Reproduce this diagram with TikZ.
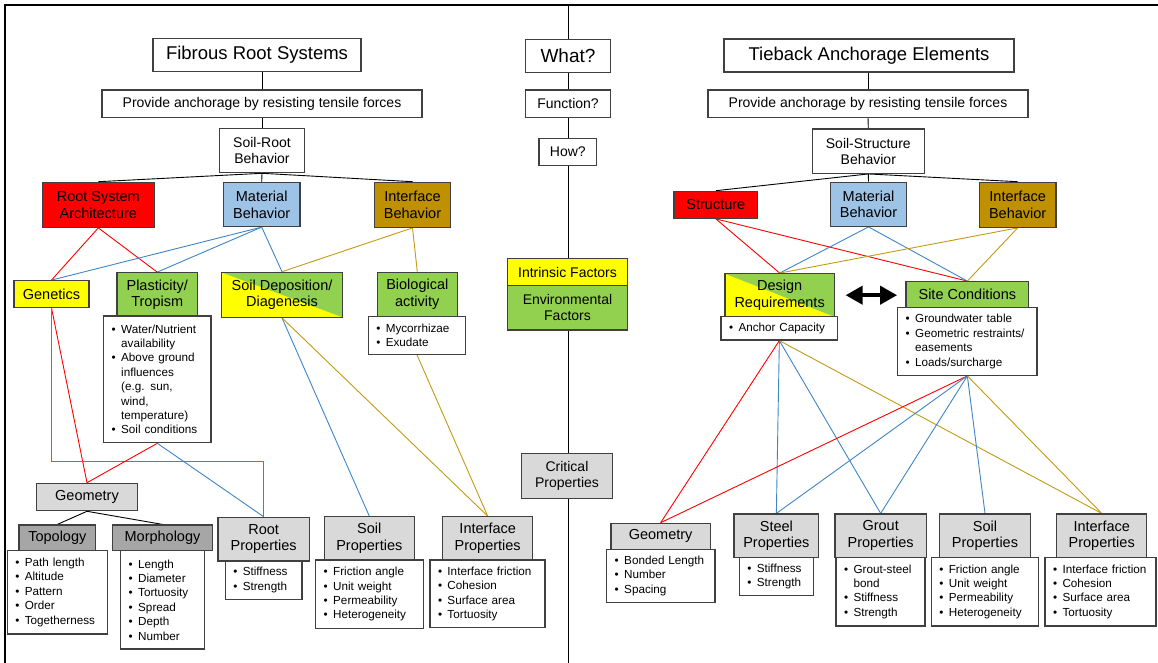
\documentclass[tikz,border=0pt]{standalone}
\usepackage{fontspec}
\setmainfont{Liberation Sans}
\usetikzlibrary{arrows.meta}
\pgfdeclarelayer{background}
\pgfsetlayers{background,main}

\definecolor{redbox}{HTML}{FF0000}
\definecolor{bluebox}{HTML}{9DC3E6}
\definecolor{goldbox}{HTML}{BF9000}
\definecolor{yelbox}{HTML}{FFFF00}
\definecolor{grnbox}{HTML}{92D050}
\definecolor{ltgrey}{HTML}{D9D9D9}
\definecolor{dkgrey}{HTML}{A6A6A6}
\definecolor{edgecol}{HTML}{404040}
\definecolor{redln}{HTML}{FF0000}
\definecolor{blueln}{HTML}{3D85C6}
\definecolor{goldln}{HTML}{C29A12}

\newcommand\titlefont{\fontsize{18.5}{21}\selectfont}
\newcommand\lblfont{\fontsize{14.5}{16.7}\selectfont}
\newcommand\smallfont{\fontsize{14}{16.4}\selectfont}
\newcommand\bulletfont{\fontsize{11.7}{14.4}\selectfont}
\newcommand\bitem[1]{\makebox[9.5pt][l]{•}#1}
\newcommand\bcont[1]{\hspace*{9.5pt}#1}

\tikzset{
  bx/.style={draw=edgecol, line width=1.2pt, inner sep=0pt, align=center,
    fill=white, font=\lblfont},
  sz/.style 2 args={minimum width=#1pt, minimum height=#2pt},
  bulletbox/.style={draw=edgecol, line width=1.2pt, fill=white, inner xsep=8pt,
    inner ysep=0pt, align=left, font=\bulletfont, text width=#1pt-16pt},
  split/.style={fill=yelbox, path picture={
    \fill[grnbox] (path picture bounding box.north west) --
      (path picture bounding box.north east) --
      (path picture bounding box.south east) -- cycle;}},
  blk/.style={draw=black, line width=0.9pt},
  rl/.style={draw=redln, line width=0.9pt},
  bl/.style={draw=blueln, line width=0.9pt},
  gl/.style={draw=goldln, line width=0.9pt},
  fatarrow/.style={draw=black, line width=4pt,
    {Triangle[length=17pt,width=18pt]}-{Triangle[length=17pt,width=18pt]}},
}

\begin{document}
\begin{tikzpicture}[x=1pt, y=-1pt]
\useasboundingbox (0,0) rectangle (1158,663);

% ---------------- frame and central divider ----------------
\draw[line width=2.5pt] (1158,5) -- (5,5) -- (5,663);
\coordinate (divtop) at (568,5);
\coordinate (divbot) at (568,663);

% ---------------- left tree: fibrous root systems ----------------
\node[bx, sz={208}{33}, font=\titlefont] (fib) at (257,55) {Fibrous Root Systems};
\node[bx, sz={320}{27.3}, font=\smallfont] (provL) at (262,103.7) {Provide anchorage by resisting tensile forces};
\node[bx, sz={84.5}{44.4}, font=\smallfont] (srb) at (262,150.5) {Soil-Root\\Behavior};

\node[bx, sz={112}{45}, fill=redbox] (rsa) at (98.3,204.8) {Root System\\Architecture};
\node[bx, sz={76.7}{44}, fill=bluebox] (mbL) at (261.7,204.5) {Material\\Behavior};
\node[bx, sz={76.4}{45}, fill=goldbox] (ibL) at (412.5,204.8) {Interface\\Behavior};

\node[bx, sz={75}{26.6}, fill=yelbox] (gen) at (51.5,294) {Genetics};
\node[bx, sz={80.3}{44}, fill=grnbox] (plas) at (157.2,294.7) {Plasticity/\\Tropism};
\node[bulletbox=107.3, minimum height=126.7pt] (plasB) at (157.35,379.35)
  {\bitem{Water/Nutrient}\\\bcont{availability}\\\bitem{Above ground}\\\bcont{influences}\\\bcont{(e.g. sun,}\\\bcont{wind,}\\\bcont{temperature)}\\\bitem{Soil conditions}};
\node[bx, sz={121.4}{45}, split] (sdd) at (282,294.8) {Soil Deposition/\\Diagenesis};
\node[bx, sz={80}{44.4}, fill=grnbox] (bio) at (417.3,294.5) {Biological\\activity};
\node[bulletbox=97.4, minimum height=37.6pt] (bioB) at (417,335.5)
  {\bitem{Mycorrhizae}\\\bitem{Exudate}};

\node[bx, sz={100.6}{27.4}, fill=ltgrey] (geoL) at (87,497) {Geometry};
\node[bx, sz={76.7}{25.7}, fill=dkgrey] (topo) at (57.35,537.85) {Topology};
\node[bulletbox=100, minimum height=83.3pt] (topoB) at (57.3,592.35)
  {\bitem{Path length}\\\bitem{Altitude}\\\bitem{Pattern}\\\bitem{Order}\\\bitem{Togetherness}};
\node[bx, sz={99.6}{25.7}, fill=dkgrey] (morph) at (162.5,537.85) {Morphology};
\node[bulletbox=83.6, minimum height=98.3pt] (morphB) at (162.5,599.85)
  {\bitem{Length}\\\bitem{Diameter}\\\bitem{Tortuosity}\\\bitem{Spread}\\\bitem{Depth}\\\bitem{Number}};

\node[bx, sz={91.3}{43.7}, fill=ltgrey] (rootP) at (263.65,539.15) {Root\\Properties};
\node[bulletbox=76.7, minimum height=38.3pt] (rootB) at (263.65,580.15)
  {\bitem{Stiffness}\\\bitem{Strength}};
\node[bx, sz={90}{43.3}, fill=ltgrey] (soilPL) at (369.3,538.35) {Soil\\Properties};
\node[bulletbox=108, minimum height=68.7pt] (soilBL) at (369.7,594.35)
  {\bitem{Friction angle}\\\bitem{Unit weight}\\\bitem{Permeability}\\\bitem{Heterogeneity}};
\node[bx, sz={90}{43.3}, fill=ltgrey] (intPL) at (487.7,538.35) {Interface\\Properties};
\node[bulletbox=115, minimum height=67.7pt] (intBL) at (487.5,593.85)
  {\bitem{Interface friction}\\\bitem{Cohesion}\\\bitem{Surface area}\\\bitem{Tortuosity}};

% ---------------- central column of questions ----------------
\node[bx, sz={84.6}{33}, font=\fontsize{19}{22}\selectfont] (what) at (568,55.8) {What?};
\node[bx, sz={84.6}{27.3}, font=\smallfont] (func) at (568,103.65) {Function?};
\node[bx, sz={57.7}{27.4}, font=\smallfont] (how) at (567.85,152) {How?};
\node[bx, sz={120.4}{26.6}, fill=yelbox, font=\smallfont] (intr) at (567.5,272) {Intrinsic Factors};
\node[bx, sz={120.4}{44.7}, fill=grnbox, font=\smallfont] (env) at (567.5,307.65) {Environmental\\Factors};
\node[bx, sz={90.6}{45}, fill=ltgrey, font=\smallfont] (crit) at (567,475.8) {Critical\\Properties};

% ---------------- right tree: tieback anchorage elements ----------------
\node[bx, sz={290}{33}, font=\titlefont] (tie) at (869,55.5) {Tieback Anchorage Elements};
\node[bx, sz={320}{27.3}, font=\smallfont] (provR) at (868,103.65) {Provide anchorage by resisting tensile forces};
\node[bx, sz={112}{44.3}, font=\smallfont] (ssb) at (868.3,151.2) {Soil-Structure\\Behavior};

\node[bx, sz={83.7}{27}, fill=redbox] (struc) at (715.85,204.8) {Structure};
\node[bx, sz={76.4}{44}, fill=bluebox] (mbR) at (868.5,204.3) {Material\\Behavior};
\node[bx, sz={76.7}{45}, fill=goldbox] (ibR) at (1017.65,204.8) {Interface\\Behavior};

\node[bx, sz={109.3}{43}, split] (dr) at (779.65,295.2) {Design\\Requirements};
\node[bulletbox=116.7, minimum height=23.3pt] (drB) at (779.35,328.35)
  {\bitem{Anchor Capacity}};
\node[bx, sz={122.7}{26}, fill=grnbox] (sc) at (967.35,294.7) {Site Conditions};
\node[bulletbox=139.3, minimum height=67.6pt] (scB) at (967.35,341.5)
  {\bitem{Groundwater table}\\\bitem{Geometric restraints/}\\\bcont{easements}\\\bitem{Loads/surcharge}};

\node[bx, sz={99.3}{26}, fill=ltgrey] (geoR) at (660.65,536.3) {Geometry};
\node[bulletbox=108.3, minimum height=53pt] (geoRB) at (660.85,575.8)
  {\bitem{Bonded Length}\\\bitem{Number}\\\bitem{Spacing}};
\node[bx, sz={84.7}{43.3}, fill=ltgrey] (steel) at (776.35,535.65) {Steel\\Properties};
\node[bulletbox=74, minimum height=38.4pt] (steelB) at (776.3,576.5)
  {\bitem{Stiffness}\\\bitem{Strength}};
\node[bx, sz={91.3}{43.3}, fill=ltgrey] (grout) at (880.65,535.65) {Grout\\Properties};
\node[bulletbox=89, minimum height=68.7pt] (groutB) at (880.5,591.65)
  {\bitem{Grout-steel}\\\bcont{bond}\\\bitem{Stiffness}\\\bitem{Strength}};
\node[bx, sz={91.4}{43.3}, fill=ltgrey] (soilPR) at (985,535.65) {Soil\\Properties};
\node[bulletbox=107.4, minimum height=68.7pt] (soilBR) at (985,591.65)
  {\bitem{Friction angle}\\\bitem{Unit weight}\\\bitem{Permeability}\\\bitem{Heterogeneity}};
\node[bx, sz={90}{43.3}, fill=ltgrey] (intPR) at (1101.7,535.65) {Interface\\Properties};
\node[bulletbox=111, minimum height=68.7pt] (intBR) at (1100.5,591.65)
  {\bitem{Interface friction}\\\bitem{Cohesion}\\\bitem{Surface area}\\\bitem{Tortuosity}};

% two-way relation between design and site
\draw[fatarrow, shorten <=10.7pt, shorten >=8.3pt] (dr.east) -- (dr.east -| sc.west);

% ---------------- connectors ----------------
\coordinate (gbend) at (263.65,461.7);
\begin{pgfonlayer}{background}
  \draw[line width=1pt] (divtop) -- (divbot);

  % left: hierarchy
  \draw[blk] (fib.south -| provL.north) -- (provL.north);
  \draw[blk] (provL.south) -- (srb.north);
  \draw[blk] (srb.south) -- (rsa.north);
  \draw[blk] (srb.south) -- (mbL.north);
  \draw[blk] (srb.south) -- (ibL.north);
  \draw[rl] (rsa.south) -- (gen.north);
  \draw[rl] (rsa.south) -- (plas.north);
  \draw[bl] (mbL.south) -- (gen.north);
  \draw[bl] (mbL.south) -- (plas.north);
  \draw[bl] (mbL.south) -- (sdd.north);
  \draw[gl] (ibL.south) -- (sdd.north);
  \draw[gl] (ibL.south) -- (bio.north);
  \draw[rl] (gen.south) -- (geoL.north);
  \draw[bl] (gen.south) |- (gbend) -- (rootP.north);
  \draw[rl] (plasB.south) -- (geoL.north);
  \draw[bl] (plasB.south) -- (rootP.north);
  \draw[blk] (geoL.south) -- (topo.north);
  \draw[blk] (geoL.south) -- (morph.north);
  \draw[bl] (sdd.south) -- (soilPL.north);
  \draw[gl] (sdd.south) -- (intPL.north);
  \draw[gl] (bioB.south) -- (intPL.north);

  % right: hierarchy
  \draw[blk] (tie.south -| provR.north) -- (provR.north);
  \draw[blk] (provR.south) -- (ssb.north);
  \draw[blk] (ssb.south) -- (struc.north);
  \draw[blk] (ssb.south) -- (mbR.north);
  \draw[blk] (ssb.south) -- (ibR.north);
  \draw[rl] (struc.south) -- (dr.north);
  \draw[rl] (struc.south) -- (sc.north);
  \draw[bl] (mbR.south) -- (dr.north);
  \draw[bl] (mbR.south) -- (sc.north);
  \draw[gl] (ibR.south) -- (dr.north);
  \draw[gl] (ibR.south) -- (sc.north);
  \draw[rl] (drB.south) -- (geoR.north);
  \draw[bl] (drB.south) -- (steel.north);
  \draw[bl] (drB.south) -- (grout.north);
  \draw[gl] (drB.south) -- (intPR.north);
  \draw[rl] (scB.south) -- (geoR.north);
  \draw[bl] (scB.south) -- (steel.north);
  \draw[bl] (scB.south) -- (grout.north);
  \draw[bl] (scB.south) -- (soilPR.north);
  \draw[gl] (scB.south) -- (intPR.north);
\end{pgfonlayer}
\end{tikzpicture}
\end{document}
